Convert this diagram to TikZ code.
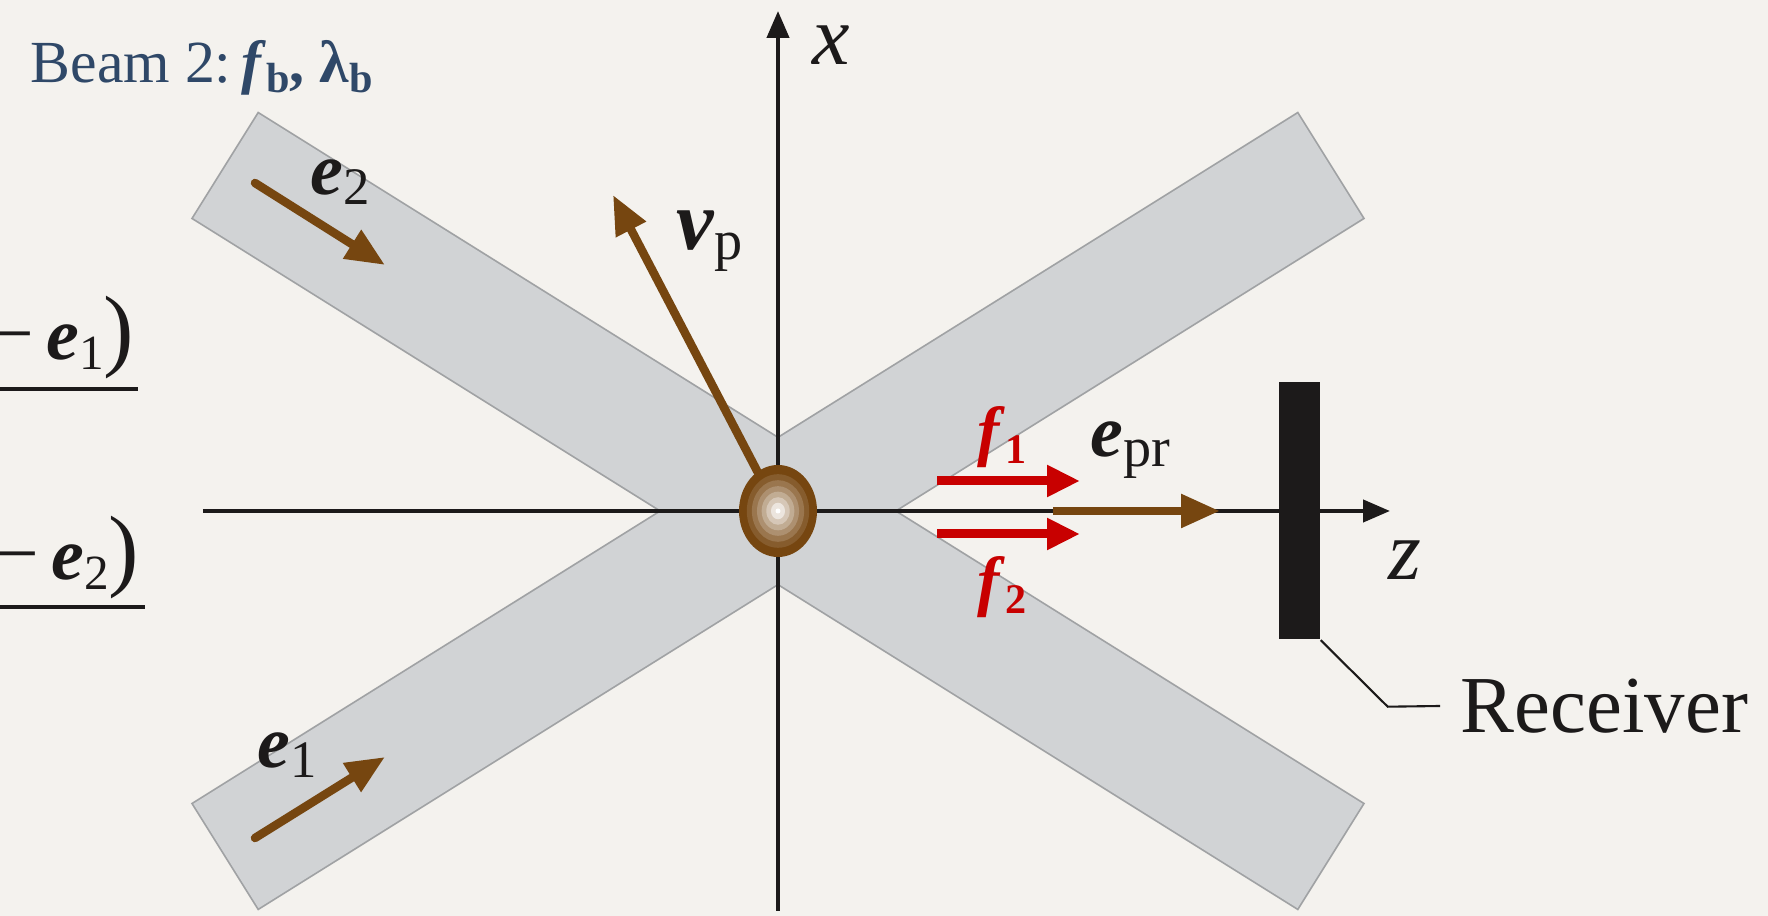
\documentclass[tikz,border=0pt]{standalone}
\usepackage{fontspec}
\setmainfont{Liberation Serif}
\usepackage{tikz}
\usetikzlibrary{positioning, arrows.meta}
\definecolor{paper}{RGB}{244,242,238}
\definecolor{beamgray}{RGB}{209,211,213}
\definecolor{beamedge}{RGB}{160,162,164}
\definecolor{pbrown}{RGB}{118,70,16}
\definecolor{fred}{RGB}{200,0,0}
\definecolor{ink}{RGB}{28,26,26}
\definecolor{beamblue}{RGB}{47,72,104}
\newcommand{\fsz}[1]{\fontsize{#1}{#1}\selectfont}
\newcommand{\bv}[4]{{\fsz{#1}\textbf{\textit{#2}}}\raisebox{-1mm}{\fsz{#3}#4}}

\begin{document}
\begin{tikzpicture}[
    beam/.style={fill=beamgray},
    beamrim/.style={draw=beamedge, line width=1pt},
    axisline/.style={draw=ink, line width=1.2pt, -{Triangle[length=2.7mm, width=2.2mm]}},
    vecarrow/.style={draw=pbrown, line width=0.85mm, line cap=round, -{Triangle[length=3.9mm, width=3.2mm]}},
    freqarrow/.style={draw=fred, line width=0.9mm, -{Triangle[length=3.3mm, width=3mm]}},
    receiver/.style={fill=ink, minimum width=4.1mm, minimum height=25.7mm, inner sep=0pt},
    lbl/.style={inner sep=0pt, anchor=base west, text=ink},
    leader/.style={draw=ink, line width=0.6pt},
    fracbar/.style={draw=ink, line width=0.4mm}
]
\path[use as bounding box, fill=paper] (-7.78,-4.05) rectangle (9.90,5.11);

\coordinate (O) at (0,0);
\foreach \a in {32,-32}
    \draw[beamrim, rotate=\a] (-6.51,-0.615) rectangle (6.51,0.615);
\foreach \a in {32,-32}
    \fill[beam, rotate=\a] (-6.51,-0.615) rectangle (6.51,0.615);

\coordinate (zL) at (-5.75,0);
    \coordinate (zR) at (6.12,0);
    \coordinate (xB) at (0,-4.0);
    \coordinate (xT) at (0,5.0);
\draw[axisline] (zL) -- (zR);
    \draw[axisline] (xB) -- (xT);

\coordinate (vp) at (-1.65,3.16);
\draw[vecarrow] (O) -- (vp);

\foreach \s/\m in {1/100, 0.8/88, 0.67/74, 0.54/60, 0.42/45, 0.3/30, 0.18/14}
    \fill[pbrown!\m!white] (O) ellipse ({0.39*\s} and {0.46*\s});
\fill[white] (O) circle (0.025);

\coordinate (f1s) at (1.59,0.30);
    \coordinate (f1t) at (3.02,0.30);
    \coordinate (f2s) at (1.59,-0.23);
    \coordinate (f2t) at (3.02,-0.23);
    \coordinate (eps) at (2.75,0);
    \coordinate (ept) at (4.42,0);
\draw[freqarrow] (f1s) -- (f1t);
    \draw[freqarrow] (f2s) -- (f2t);
    \draw[vecarrow, line cap=butt] (eps) -- (ept);

\coordinate (e1s) at (-5.23,-3.27);
    \coordinate (e1t) at (-3.93,-2.46);
    \coordinate (e2s) at (-5.23,3.28);
    \coordinate (e2t) at (-3.93,2.46);
\draw[vecarrow] (e1s) -- (e1t);
    \draw[vecarrow] (e2s) -- (e2t);

\node[receiver] (rcv) at (5.215,0) {};
\node[anchor=west, inner xsep=2mm, inner ysep=0pt, text=ink] (rlbl) at (6.62,-1.95) {\fsz{23}Receiver};
\draw[leader] (rcv.south east) -- ++(0.67,-0.665) -- (rlbl.west);

\node[lbl] (xlbl) at (0.34,4.46) {\fsz{24}\textit{x}};
\node[lbl] (zlbl) at (6.10,-0.69) {\fsz{24}\textit{z}};
\node[lbl] (vplbl) at (-1.02,2.61) {\bv{24}{v}{16}{p}};
\node[lbl] (e2lbl) at (-4.68,3.16) {\bv{21}{e}{15}{2}};
\node[lbl] (e1lbl) at (-5.21,-2.57) {\bv{21}{e}{15}{1}};
\node[lbl] (eplbl) at (3.12,0.54) {\bv{21}{e}{16}{pr}};
\node[lbl, text=fred] (f1lbl) at (1.99,0.57) {\bv{19}{f}{12}{\textbf{1}}};
\node[lbl, text=fred] (f2lbl) at (1.99,-0.93) {\bv{19}{f}{12}{\textbf{2}}};
\node[lbl, text=beamblue] (beamlbl) at (-7.48,4.28) {{\fsz{17}Beam 2:\,}\bv{17}{f}{12}{\textbf{b}}{\fsz{17}\textbf{,} \textbf{λ}}\raisebox{-1mm}{\fsz{12}\textbf{b}}};

\node[anchor=east, inner sep=0pt, text=ink] (frac1) at (-6.43,1.73) {{\fsz{22}−\,}\bv{21}{e}{14}{1}{\fsz{26})}};
    \node[anchor=east, inner sep=0pt, text=ink] (frac2) at (-6.38,-0.465) {{\fsz{22}−\,}\bv{21}{e}{14}{2}{\fsz{26})}};
\coordinate (bar1L) at (-7.9,1.22);
    \coordinate (bar1R) at (-6.40,1.22);
    \coordinate (bar2L) at (-7.9,-0.96);
    \coordinate (bar2R) at (-6.33,-0.96);
\draw[fracbar] (bar1L) -- (bar1R);
    \draw[fracbar] (bar2L) -- (bar2R);
\end{tikzpicture}
\end{document}
